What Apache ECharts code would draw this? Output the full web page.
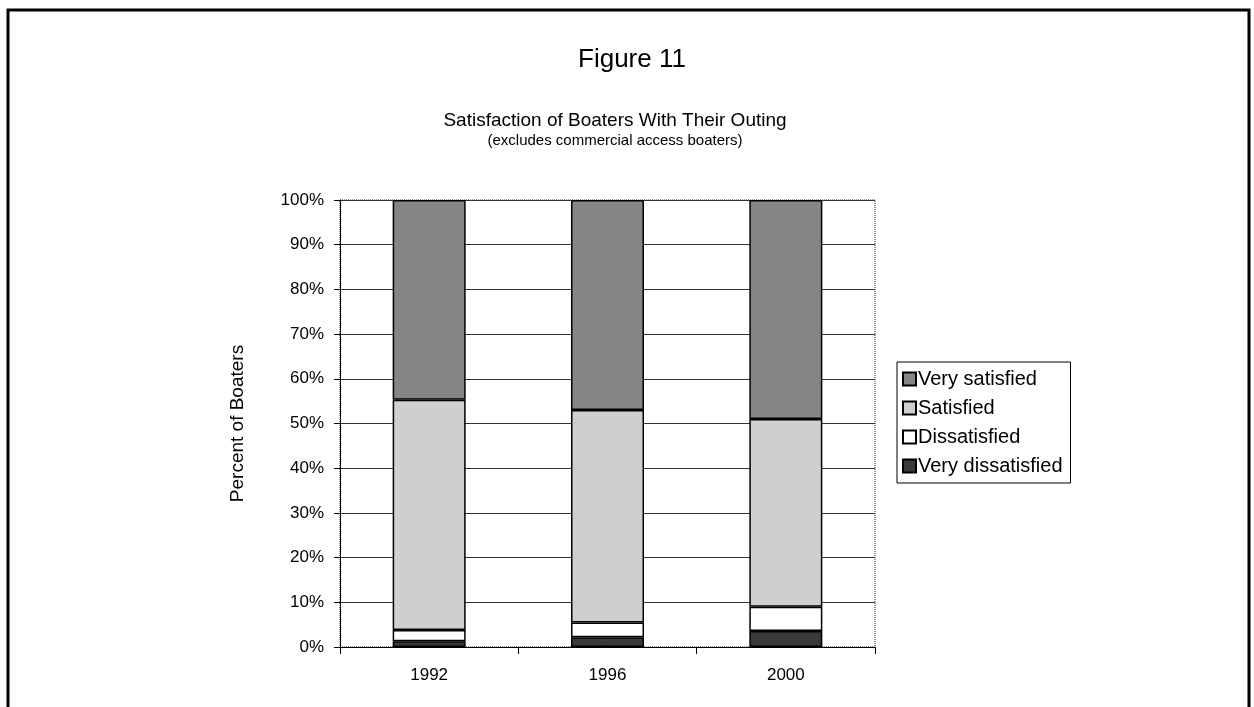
<!DOCTYPE html>
<html>
<head>
<meta charset="utf-8">
<script src="https://cdn.jsdelivr.net/npm/echarts@6/dist/echarts.min.js"></script>
<style>
  html, body { margin: 0; padding: 0; background: #fff; }
  #chart { width: 1254px; height: 707px; }
</style>
</head>
<body>
<div id="chart"></div>
<script>
// data (percent of boaters)
var years = ['1992', '1996', '2000'];
var veryDissatisfied = [1.3, 2.2, 3.6];
var dissatisfied = [2.5, 3.3, 5.4];
var satisfied = [51.5, 47.5, 42.0];
var verySatisfied = [44.7, 47.0, 49.0];
var yTicks = [0, 10, 20, 30, 40, 50, 60, 70, 80, 90, 100];

var font = 'Liberation Sans, Arial, sans-serif';
var chart = echarts.init(document.getElementById('chart'));

function barSeries(name, data, color) {
  return {
    name: name,
    type: 'bar',
    stack: 'total',
    barWidth: 73,
    data: data,
    itemStyle: { color: color, borderColor: '#000', borderWidth: 1.5 }
  };
}

var option = {
  backgroundColor: '#fff',
  animation: false,
  title: [
    { text: 'Figure 11', left: 627, top: 42, textAlign: 'center',
      textStyle: { fontFamily: font, fontSize: 26, fontWeight: 'normal', color: '#000' } },
    { text: 'Satisfaction of Boaters With Their Outing', left: 610, top: 106, textAlign: 'center',
      textStyle: { fontFamily: font, fontSize: 19, fontWeight: 'normal', color: '#000' } },
    { text: '(excludes commercial access boaters)', left: 610, top: 128, textAlign: 'center',
      textStyle: { fontFamily: font, fontSize: 15, fontWeight: 'normal', color: '#000' } }
  ],
  legend: {
    orient: 'vertical',
    left: 897,
    top: 362,
    data: ['Very satisfied', 'Satisfied', 'Dissatisfied', 'Very dissatisfied'],
    icon: 'rect',
    itemWidth: 13,
    itemHeight: 13,
    itemGap: 9,
    padding: [7, 8, 7, 5],
    borderColor: '#000',
    borderWidth: 1,
    textStyle: { fontFamily: font, fontSize: 20, color: '#000', padding: [0, 0, 0, -3] }
  },
  grid: {
    left: 340, top: 200, right: 379, bottom: 60,
    show: true,
    borderColor: '#222',
    borderWidth: 1,
    borderType: 'dotted'
  },
  xAxis: {
    type: 'category',
    data: years,
    axisLine: { lineStyle: { color: '#000', width: 1 } },
    axisTick: { show: true, length: 7, lineStyle: { color: '#000' } },
    axisLabel: { fontFamily: font, fontSize: 17, color: '#000', margin: 20 }
  },
  yAxis: {
    type: 'value',
    min: 0,
    max: 100,
    interval: 10,
    name: 'Percent of Boaters',
    nameLocation: 'middle',
    nameRotate: 90,
    nameGap: 93,
    nameTextStyle: { fontFamily: font, fontSize: 19, color: '#000' },
    axisLine: { show: true, lineStyle: { color: '#000', width: 1 } },
    axisTick: { show: true, inside: false, length: 6, lineStyle: { color: '#000' } },
    axisLabel: {
      fontFamily: font, fontSize: 17, color: '#000', margin: 16,
      formatter: function (v) { return yTicks.indexOf(v) >= 0 ? v + '%' : ''; }
    },
    splitLine: { show: true, lineStyle: { color: '#333', width: 1 } }
  },
  graphic: [
    { type: 'rect', shape: { x: 8, y: 10, width: 1241, height: 720 },
      style: { fill: null, stroke: '#000', lineWidth: 3 }, silent: true }
  ],
  series: [
    barSeries('Very dissatisfied', veryDissatisfied, '#3a3a3a'),
    barSeries('Dissatisfied', dissatisfied, '#ffffff'),
    barSeries('Satisfied', satisfied, '#cfcfcf'),
    barSeries('Very satisfied', verySatisfied, '#858585')
  ]
};

chart.setOption(option);
</script>
</body>
</html>
